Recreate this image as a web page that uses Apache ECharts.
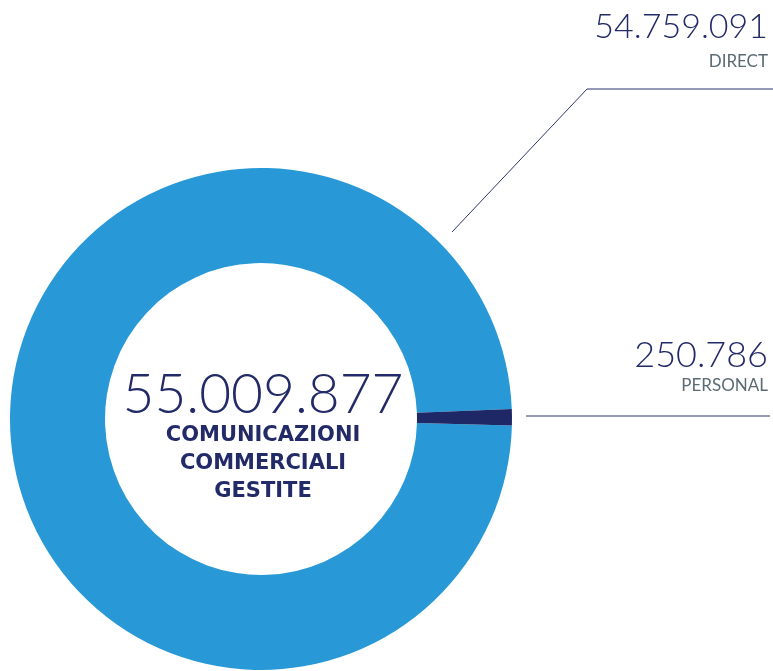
<!DOCTYPE html>
<html>
<head>
<meta charset="utf-8">
<script src="https://cdn.jsdelivr.net/npm/echarts@6/dist/echarts.min.js"></script>
<style>html,body{margin:0;padding:0;background:#fff}#c{width:773px;height:671px}</style>
</head>
<body>
<div id="c"></div>
<script>
const categories = ['DIRECT', 'PERSONAL'];
const values = [54759091, 250786];
const centerLines = ['COMUNICAZIONI', 'COMMERCIALI', 'GESTITE'];

function fmt(n) { return String(n).replace(/\B(?=(\d{3})+(?!\d))/g, '.'); }
const total = values.reduce((a, b) => a + b, 0);

const NAVY = '#222a68', GREY = '#5b6b73';
const chart = echarts.init(document.getElementById('c'));
const cx = 261, cy = 419;

const labelStyles = [
  { v: 34, nLh: 26 },
  { v: 36, nLh: 17 }
];

chart.setOption({
  animation: false,
  title: {
    text: '{a|' + fmt(total) + '}\n' + centerLines.map(s => '{b|' + s + '}').join('\n'),
    left: cx - 3, top: 363, textAlign: 'center',
    textStyle: {
      rich: {
        a: { fontFamily: 'Lato', fontWeight: 300, fontSize: 55, color: NAVY, lineHeight: 54, align: 'center' },
        b: { fontFamily: 'DejaVu Sans', fontWeight: 'bold', fontSize: 21, color: NAVY, lineHeight: 28, align: 'center' }
      }
    }
  },
  series: [{
    type: 'pie',
    center: [cx, cy],
    radius: [156, 251],
    startAngle: 358.5,
    clockwise: true,
    minAngle: 3.8,
    avoidLabelOverlap: false,
    itemStyle: { borderWidth: 0 },
    emphasis: { disabled: true },
    data: categories.map((c, i) => ({
      name: c, value: values[i],
      itemStyle: { color: i === 0 ? '#2899d6' : '#1e2866' },
      label: {
        rich: {
          v: { fontFamily: 'Lato', fontWeight: 300, fontSize: labelStyles[i].v, color: NAVY, lineHeight: 44, align: 'right' },
          n: { fontFamily: 'Lato', fontSize: 17, color: GREY, lineHeight: labelStyles[i].nLh, align: 'right' }
        }
      }
    })),
    label: {
      show: true,
      formatter: p => '{v|' + fmt(p.value) + '}\n{n|' + p.name + '}'
    },
    labelLine: { show: true, lineStyle: { color: '#2b3470', width: 1 } },
    labelLayout: function (p) {
      if (p.dataIndex === 0) {
        return { x: 768, y: 5, align: 'right', verticalAlign: 'top',
          labelLinePoints: [[452, 232], [587, 89], [773, 89]] };
      }
      return { x: 768, y: 333, align: 'right', verticalAlign: 'top',
        labelLinePoints: [[526, 416], [650, 416], [770, 416]] };
    }
  }]
});
</script>
</body>
</html>
